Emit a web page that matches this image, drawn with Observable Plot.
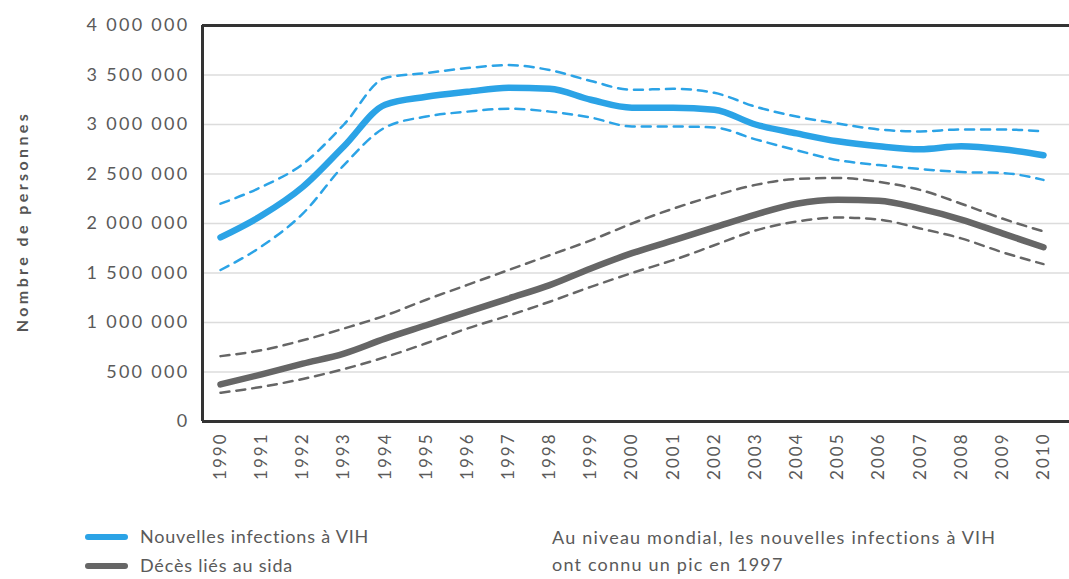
<!DOCTYPE html>
<html>
<head>
<meta charset="utf-8">
<script src="https://cdn.jsdelivr.net/npm/d3@7"></script>
<script src="https://cdn.jsdelivr.net/npm/@observablehq/plot@0.6"></script>
<style>
  html, body { margin: 0; padding: 0; background: #fff; }
  #wrap { position: relative; width: 1069px; height: 579px; font-family: Lato, "Open Sans", sans-serif; }
  #chart svg { display: block; }
  #chart svg g[aria-label="y-axis tick label"] text { letter-spacing: 2.3px; }
  #chart svg g[aria-label="x-axis tick label"] text { letter-spacing: 2px; }
  #chart svg g.ytitle text { letter-spacing: 3.4px; }
  .leg { position: absolute; font-size: 18px; color: #5a5a5a; letter-spacing: 0.8px; white-space: nowrap; }
  .note { letter-spacing: 1.2px; line-height: 27px; }
  .sw { position: absolute; width: 43px; height: 6px; border-radius: 3px; }
</style>
</head>
<body>
<div id="wrap">
  <div id="chart"></div>
  <div class="sw" style="left:85px; top:534px; background:#2ba3e6;"></div>
  <div class="leg" style="left:140px; top:525px;">Nouvelles infections à VIH</div>
  <div class="sw" style="left:85px; top:563px; background:#666;"></div>
  <div class="leg" style="left:140px; top:554px;">Décès liés au sida</div>
  <div class="leg note" style="left:552px; top:524px;">Au niveau mondial, les nouvelles infections à VIH<br>ont connu un pic en 1997</div>
</div>
<script>
const years = [1990,1991,1992,1993,1994,1995,1996,1997,1998,1999,2000,2001,2002,2003,2004,2005,2006,2007,2008,2009,2010];
const infections     = [1860000,2080000,2370000,2780000,3200000,3280000,3330000,3370000,3360000,3250000,3170000,3170000,3150000,3000000,2910000,2830000,2780000,2750000,2780000,2750000,2690000];
const infectionsHigh = [2200000,2370000,2600000,3000000,3470000,3520000,3570000,3600000,3550000,3440000,3350000,3360000,3320000,3180000,3080000,3010000,2950000,2930000,2950000,2950000,2930000];
const infectionsLow  = [1530000,1770000,2100000,2590000,2970000,3080000,3130000,3160000,3130000,3070000,2980000,2980000,2970000,2850000,2740000,2640000,2590000,2550000,2520000,2510000,2440000];
const deaths     = [375000,476000,584000,686000,837000,972000,1107000,1242000,1377000,1546000,1700000,1830000,1960000,2090000,2200000,2240000,2230000,2150000,2040000,1900000,1760000];
const deathsHigh = [660000,720000,820000,940000,1070000,1230000,1380000,1530000,1680000,1830000,2000000,2150000,2280000,2390000,2450000,2460000,2420000,2340000,2200000,2050000,1920000];
const deathsLow  = [290000,350000,430000,530000,650000,790000,940000,1070000,1210000,1360000,1500000,1630000,1780000,1930000,2020000,2060000,2040000,1950000,1850000,1710000,1590000];
const yTicks = [0,500000,1000000,1500000,2000000,2500000,3000000,3500000,4000000];
const gridTicks = [500000,1000000,1500000,2000000,2500000,3000000,3500000];
const yTitle = "Nombre de personnes";

const series = [
  {key: "inf", values: infections},
  {key: "infHi", values: infectionsHigh},
  {key: "infLo", values: infectionsLow},
  {key: "dea", values: deaths},
  {key: "deaHi", values: deathsHigh},
  {key: "deaLo", values: deathsLow}
];
const rows = series.flatMap(s => s.values.map((v, i) => ({series: s.key, year: years[i], value: v})));
const pick = k => rows.filter(r => r.series === k);

const fmt = d => d3.format(",")(d).replace(/,/g, " ");
const blue = "#2ba3e6", grey = "#666666";

const chart = Plot.plot({
  width: 1069,
  height: 495,
  marginTop: 25,
  marginLeft: 202,
  marginRight: 0,
  marginBottom: 74,
  style: {fontFamily: "Lato, 'Open Sans', sans-serif", color: "#5a5a5a", background: "#fff"},
  x: {domain: [1990, 2010], insetLeft: 18, insetRight: 26},
  y: {domain: [0, 4000000]},
  marks: [
    Plot.ruleY(gridTicks, {stroke: "#dcdcdc", strokeWidth: 1.5}),
    Plot.axisY({ticks: yTicks, tickFormat: fmt, tickSize: 0, tickPadding: 13, fontSize: 18, label: null, fill: "#5a5a5a"}),
    Plot.axisX({ticks: years, tickFormat: d => String(d), tickSize: 0, tickPadding: 11, tickRotate: -90, fontSize: 17, label: null, fill: "#5a5a5a"}),
    Plot.line(pick("infHi"), {x: "year", y: "value", stroke: blue, strokeWidth: 2.5, strokeDasharray: "9,7", curve: "monotone-x"}),
    Plot.line(pick("infLo"), {x: "year", y: "value", stroke: blue, strokeWidth: 2.5, strokeDasharray: "9,7", curve: "monotone-x"}),
    Plot.line(pick("deaHi"), {x: "year", y: "value", stroke: grey, strokeWidth: 2.5, strokeDasharray: "9,7", curve: "monotone-x"}),
    Plot.line(pick("deaLo"), {x: "year", y: "value", stroke: grey, strokeWidth: 2.5, strokeDasharray: "9,7", curve: "monotone-x"}),
    Plot.line(pick("inf"), {x: "year", y: "value", stroke: blue, strokeWidth: 6.5, curve: "monotone-x"}),
    Plot.line(pick("dea"), {x: "year", y: "value", stroke: grey, strokeWidth: 6.5, curve: "monotone-x"}),
    Plot.ruleY([0, 4000000], {stroke: "#333", strokeWidth: 3}),
    Plot.ruleX([1990], {dx: -18, stroke: "#333", strokeWidth: 3}),
    Plot.text([yTitle], {frameAnchor: "left", textAnchor: "middle", dx: -180, dy: -2, rotate: -90, text: d => d, fontSize: 16, fontWeight: "bold", fill: "#555", className: "ytitle"})
  ]
});
document.getElementById("chart").append(chart);
</script>
</body>
</html>
